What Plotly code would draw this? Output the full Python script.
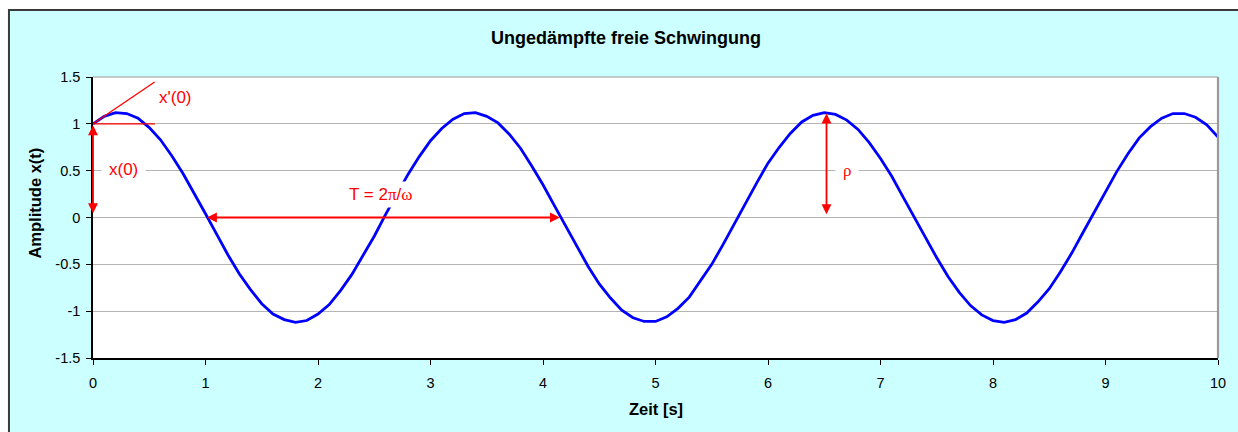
import plotly.graph_objects as go

# ---- data ----
zeit = [0.0, 0.1, 0.2, 0.3, 0.4, 0.5, 0.6, 0.7, 0.8, 0.9,
        1.0, 1.1, 1.2, 1.3, 1.4, 1.5, 1.6, 1.7, 1.8, 1.9,
        2.0, 2.1, 2.2, 2.3, 2.4, 2.5, 2.6, 2.7, 2.8, 2.9,
        3.0, 3.1, 3.2, 3.3, 3.4, 3.5, 3.6, 3.7, 3.8, 3.9,
        4.0, 4.1, 4.2, 4.3, 4.4, 4.5, 4.6, 4.7, 4.8, 4.9,
        5.0, 5.1, 5.2, 5.3, 5.4, 5.5, 5.6, 5.7, 5.8, 5.9,
        6.0, 6.1, 6.2, 6.3, 6.4, 6.5, 6.6, 6.7, 6.8, 6.9,
        7.0, 7.1, 7.2, 7.3, 7.4, 7.5, 7.6, 7.7, 7.8, 7.9,
        8.0, 8.1, 8.2, 8.3, 8.4, 8.5, 8.6, 8.7, 8.8, 8.9,
        9.0, 9.1, 9.2, 9.3, 9.4, 9.5, 9.6, 9.7, 9.8, 9.9, 10.0]

amplitude = [1.00, 1.08, 1.12, 1.11, 1.06, 0.96, 0.83, 0.66, 0.47, 0.26,
             0.04, -0.18, -0.40, -0.60, -0.77, -0.92, -1.03, -1.09, -1.12, -1.10,
             -1.03, -0.93, -0.78, -0.61, -0.41, -0.20, 0.03, 0.25, 0.46, 0.65,
             0.82, 0.95, 1.05, 1.11, 1.12, 1.08, 1.01, 0.89, 0.74, 0.55,
             0.35, 0.13, -0.09, -0.31, -0.52, -0.71, -0.86, -0.99, -1.07, -1.11,
             -1.11, -1.06, -0.97, -0.85, -0.68, -0.50, -0.29, -0.07, 0.16, 0.37,
             0.58, 0.75, 0.90, 1.02, 1.09, 1.12, 1.10, 1.04, 0.94, 0.80,
             0.63, 0.44, 0.22, 0.00, -0.22, -0.43, -0.63, -0.80, -0.94, -1.04,
             -1.10, -1.12, -1.09, -1.02, -0.90, -0.76, -0.58, -0.38, -0.16, 0.06,
             0.28, 0.49, 0.68, 0.85, 0.97, 1.06, 1.11, 1.11, 1.07, 0.99, 0.86]

x_ticks = [0, 1, 2, 3, 4, 5, 6, 7, 8, 9, 10]
x_ticktext = ["0", "1", "2", "3", "4", "5", "6", "7", "8", "9", "10"]
y_ticks = [-1.5, -1.0, -0.5, 0.0, 0.5, 1.0, 1.5]
y_ticktext = ["-1.5", "-1", "-0.5", "0", "0.5", "1", "1.5"]

title_text = "Ungedämpfte freie Schwingung"
x_title = "Zeit [s]"
y_title = "Amplitude x(t)"

FONT = "Arial, 'Liberation Sans', sans-serif"
SERIF = "'Liberation Serif', 'DejaVu Serif', serif"
RED = "#FF0000"

fig = go.Figure()
fig.add_trace(go.Scatter(x=zeit, y=amplitude, mode="lines",
                         line=dict(color="#0000FF", width=2.8),
                         showlegend=False, hoverinfo="skip"))

shapes = [
    # chart area background (cyan) with dark frame
    dict(type="rect", xref="paper", yref="paper", x0=-0.0747, x1=1.03, y0=-0.30, y1=1.2384,
         fillcolor="#CCFFFF", line=dict(color="#3A3A3A", width=2), layer="below"),
    # white plot area
    dict(type="rect", xref="paper", yref="paper", x0=0, x1=1, y0=0, y1=1,
         fillcolor="#FFFFFF", line=dict(width=0), layer="below"),
    # top and right plot border (gray)
    dict(type="line", xref="paper", yref="paper", x0=0, x1=1, y0=1, y1=1,
         line=dict(color="#9A9A9A", width=1.2)),
    dict(type="line", xref="paper", yref="paper", x0=1, x1=1, y0=0, y1=1,
         line=dict(color="#9A9A9A", width=2.2)),
    # tangent x'(0) and horizontal reference line
    dict(type="line", xref="x", yref="y", x0=0, y0=1.0, x1=0.548, y1=1.447,
         line=dict(color=RED, width=1.3)),
    dict(type="line", xref="x", yref="y", x0=0, y0=1.0, x1=0.55, y1=1.0,
         line=dict(color=RED, width=1.3)),
]

def double_arrow(x0, y0, x1, y1):
    return dict(x=x1, y=y1, ax=x0, ay=y0, xref="x", yref="y", axref="x", ayref="y",
                text="", showarrow=True, arrowhead=2, startarrowhead=2,
                arrowside="end+start", arrowsize=1.1, startarrowsize=1.1,
                arrowwidth=1.8, arrowcolor=RED, standoff=0, startstandoff=0)

SPAN = "<span style=\"font-family:Liberation Serif, DejaVu Serif, serif\">"

annotations = [
    double_arrow(0, 0.03, 0, 0.985),
    double_arrow(1.0, 0, 4.15, 0),
    double_arrow(6.52, 0.02, 6.52, 1.11),
    dict(x=0.73, y=1.28, xref="x", yref="y", text="x'(0)", showarrow=False,
         font=dict(family=FONT, size=17, color=RED), xanchor="center", yanchor="middle"),
    dict(x=0.272, y=0.51, xref="x", yref="y", text="x(0)", showarrow=False,
         font=dict(family=FONT, size=17, color=RED), xanchor="center", yanchor="middle",
         bgcolor="#FFFFFF", borderpad=7),
    dict(x=2.555, y=0.248, xref="x", yref="y",
         text="T = 2" + SPAN + "π</span>/" + SPAN + "ω</span>",
         showarrow=False, font=dict(family=FONT, size=17, color=RED),
         xanchor="center", yanchor="middle", bgcolor="#FFFFFF", borderpad=3),
    dict(x=6.70, y=0.506, xref="x", yref="y",
         text=SPAN + "ρ</span>",
         showarrow=False, font=dict(family=FONT, size=17, color=RED),
         xanchor="center", yanchor="middle", bgcolor="#FFFFFF", borderpad=7),
    # title and axis titles
    dict(x=0.4738, y=1.1388, xref="paper", yref="paper", text="<b>" + title_text + "</b>",
         showarrow=False, font=dict(family=FONT, size=18, color="#000000"),
         xanchor="center", yanchor="middle"),
    dict(x=0.500, y=-0.1815, xref="paper", yref="paper", text="<b>" + x_title + "</b>",
         showarrow=False, font=dict(family=FONT, size=16.5, color="#000000"),
         xanchor="center", yanchor="middle"),
    dict(x=-0.0516, y=0.553, xref="paper", yref="paper", text="<b>" + y_title + "</b>",
         showarrow=False, textangle=-90, font=dict(family=FONT, size=16.5, color="#000000"),
         xanchor="center", yanchor="middle"),
]

fig.update_layout(
    width=1238, height=432,
    margin=dict(l=93, r=20, t=77, b=74, pad=0),
    paper_bgcolor="#FFFFFF", plot_bgcolor="#FFFFFF",
    font=dict(family=FONT, size=14, color="#000000"),
    shapes=shapes, annotations=annotations, showlegend=False,
    xaxis=dict(range=[0, 10], tickvals=x_ticks, ticktext=x_ticktext,
               showgrid=False, zeroline=False, showline=True, linecolor="#000000",
               linewidth=1.5, ticks="outside", ticklen=5, tickcolor="#000000",
               tickwidth=1, tickfont=dict(family=FONT, size=14.5, color="#000000"),
               ticklabelstandoff=6, fixedrange=True),
    yaxis=dict(range=[-1.5, 1.5], tickvals=y_ticks, ticktext=y_ticktext,
               showgrid=True, gridcolor="#B4B4B4", gridwidth=1, zeroline=False,
               showline=True, linecolor="#000000", linewidth=1.5, ticks="outside",
               ticklen=5, tickcolor="#000000", tickwidth=1,
               tickfont=dict(family=FONT, size=14.5, color="#000000"),
               ticklabelstandoff=3, fixedrange=True),
)

fig.write_html("out.html", config={"displayModeBar": False},
               post_script="document.body.style.margin='0';"
                           "document.body.style.overflow='hidden';")
